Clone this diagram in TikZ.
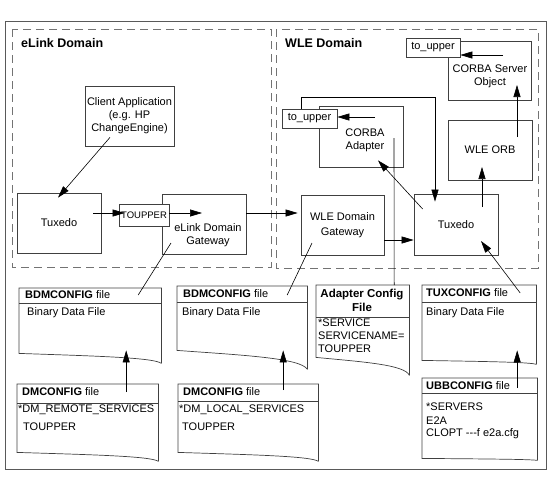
\documentclass[tikz,border=0pt]{standalone}
\usepackage{fontspec}
\setmainfont{Liberation Sans}
\usetikzlibrary{arrows.meta,calc}

\begin{document}
\begin{tikzpicture}[
    x=1pt,
    y=-1pt,
    >={Triangle[length=12pt,width=7pt]},
    every node/.style={font=\fontsize{11}{13}\selectfont, inner sep=0pt},
    box/.style={draw=black!75, line width=0.7pt, fill=white, align=center},
    doc/.style={draw=black!75, line width=0.7pt},
    docarea/.style={anchor=north west},
    domframe/.style={draw=black!55, line width=0.7pt, dash pattern=on 8pt off 5pt},
    domtitle/.style={anchor=west, font=\fontsize{12.5}{14}\bfseries\selectfont},
    hdr/.style={anchor=west},
    txt/.style={anchor=west, align=left},
    wire/.style={line width=0.6pt}
  ]

  % --- 1. ファイル形状のマクロ ---
  % #1 = ノード名, #2 = 下辺の垂れ (pt), #3 = 見出し線の位置 (上辺から)
  \def\DocShape#1#2#3{
    \draw[doc] ([yshift=-#2pt]#1.south east) -- (#1.north east) -- (#1.north west) -- (#1.south west)
    .. controls ($(#1.south west)!0.5!(#1.south east)+(0,0.25*#2)$)
    and ($(#1.south west)!0.95!(#1.south east)+(0,0.4*#2)$) .. ([yshift=-#2pt]#1.south east);
    \draw[doc] ([yshift=-#3pt]#1.north west) -- ([yshift=-#3pt]#1.north east);
  }

  \useasboundingbox (0,0) rectangle (552,483);

  % --- 2. 外枠とドメイン ---
  \draw[draw=black!65, line width=0.8pt] (5,21) rectangle (546,469);
  \draw[domframe] (12,29) rectangle (271,267);
  \draw[domframe] (276,29) rectangle (538,268);
  \node[domtitle] (elinkT) at (21,43) {eLink Domain};
  \node[domtitle] (wleT) at (285,43) {WLE Domain};

  % --- 3. eLink 側 ---
  \node[box, minimum width=89pt, minimum height=60pt] (client) at (129.5,116)
  {Client Application\\(e.g. HP\\ChangeEngine)};
  \node[box, minimum width=84pt, minimum height=60pt] (tuxL) at (59,223) {Tuxedo};
  \node[box, minimum width=84pt, minimum height=60pt] (gwL) at (204,224) {};
  \node[align=center] (gwLtxt) at (208,235) {eLink Domain\\Gateway};
  \node[box, minimum width=50pt, minimum height=22pt, font=\fontsize{9.5}{10}\selectfont] (tupL) at (144,215) {TOUPPER};

  % --- 4. WLE 側 ---
  \node[box, minimum width=83pt, minimum height=60pt] (gwR) at (342.5,225) {WLE Domain\\[2pt]Gateway};
  \node[box, minimum width=84pt, minimum height=61pt] (tuxR) at (456,224.5) {Tuxedo};
  \node[box, minimum width=84pt, minimum height=60pt] (orb) at (490,150) {WLE ORB};
  \node[box, minimum width=83pt, minimum height=59pt] (server) at (489.5,70.5) {};
  \node[align=center] (serverTxt) at (490,76) {CORBA Server\\Object};
  \node[box, minimum width=54pt, minimum height=19pt] (upS) at (433,47.5) {to\_upper};
  \node[box, minimum width=84pt, minimum height=61pt] (adapter) at (361,136.5) {};
  \node[align=center] (adapterTxt) at (365,140) {CORBA\\Adapter};
  \node[box, minimum width=55pt, minimum height=19pt] (upA) at (309.5,118.5) {to\_upper};

  % --- 5. 設定ファイル ---
  % BDMCONFIG (eLink)
  \node[docarea, minimum width=142pt, minimum height=65pt] (bdmL) at (19,288) {};
  \DocShape{bdmL}{10}{15}
  \node[hdr] (bdmLh) at (25,295) {\textbf{BDMCONFIG} file};
  \node[txt] (bdmLb) at (27,313) {Binary Data File};

  % DMCONFIG (eLink)
  \node[docarea, minimum width=141pt, minimum height=68pt] (dmL) at (17,384) {};
  \DocShape{dmL}{9}{19}
  \node[hdr] (dmLh) at (22,392) {\textbf{DMCONFIG} file};
  \node[txt] (dmLb) at (18,410) {*DM\_REMOTE\_SERVICES};
  \node[txt] (dmLt) at (23,427) {TOUPPER};

  % BDMCONFIG (WLE)
  \node[docarea, minimum width=130pt, minimum height=64pt] (bdmR) at (177,286) {};
  \DocShape{bdmR}{19}{16}
  \node[hdr] (bdmRh) at (183,294) {\textbf{BDMCONFIG} file};
  \node[txt] (bdmRb) at (182,313) {Binary Data File};

  % DMCONFIG (WLE)
  \node[docarea, minimum width=140pt, minimum height=68pt] (dmR) at (178,384) {};
  \DocShape{dmR}{9}{17}
  \node[hdr] (dmRh) at (183,392) {\textbf{DMCONFIG} file};
  \node[txt] (dmRb) at (179,410) {*DM\_LOCAL\_SERVICES};
  \node[txt] (dmRt) at (182,427) {TOUPPER};

  % Adapter Config File
  \node[docarea, minimum width=93pt, minimum height=72pt] (adcfg) at (316,285) {};
  \DocShape{adcfg}{18}{32}
  \node[align=center, font=\fontsize{11.5}{14}\bfseries\selectfont] (adcfgh) at (362,300) {Adapter Config\\File};
  \node[txt, font=\fontsize{11}{13}\selectfont] (adcfgb) at (318,336) {*SERVICE\\SERVICENAME=\\TOUPPER};

  % TUXCONFIG
  \node[docarea, minimum width=114pt, minimum height=75pt] (tuxcfg) at (422,285) {};
  \DocShape{tuxcfg}{4}{17}
  \node[hdr] (tuxcfgh) at (426,293) {\textbf{TUXCONFIG} file};
  \node[txt] (tuxcfgb) at (426,313) {Binary Data File};

  % UBBCONFIG
  \node[docarea, minimum width=115pt, minimum height=80pt] (ubbcfg) at (422,378) {};
  \DocShape{ubbcfg}{2}{15}
  \node[hdr] (ubbcfgh) at (426,386) {\textbf{UBBCONFIG} file};
  \node[txt] (ubbcfgs) at (426,407) {*SERVERS};
  \node[txt, font=\fontsize{11}{12.5}\selectfont] (ubbcfgc) at (426,428) {E2A\\CLOPT -{}-{}-f e2a.cfg};

  % --- 6. 接続線 ---
  \draw[wire, ->] ([xshift=-19.5pt,yshift=9pt]client.south) -- ([xshift=-1pt,yshift=-5pt]tuxL.north);
  \draw[wire, ->] ([xshift=-8pt,yshift=10pt]tuxL.east) -- ([xshift=6pt,yshift=2pt]tupL.west);
  \draw[wire, ->] ([yshift=2pt]tupL.east) -- ([xshift=-2pt,yshift=11pt]gwL.center);
  \draw[wire, ->] ([yshift=11pt]gwL.east) -- ([xshift=-3pt,yshift=12pt]gwR.west);
  \draw[wire] ([xshift=-33pt,yshift=-19pt]gwL.center) -- ([xshift=48pt,yshift=-7pt]bdmL.north);

  \draw[wire, ->] ([yshift=-15pt]gwR.east) -- ([yshift=-15.5pt]tuxR.west);
  \draw[wire, ->] ([xshift=9pt,yshift=15.5pt]tuxR.west) -- ([xshift=17pt,yshift=7pt]adapter.south);
  \draw[wire, ->] ([xshift=26pt,yshift=17.5pt]tuxR.center) -- ([xshift=-8pt,yshift=-17pt]orb.center);
  \draw[wire, ->] ([xshift=27pt,yshift=13pt]orb.center) -- ([xshift=27.5pt,yshift=-14.5pt]server.center);
  \draw[wire, ->] ([xshift=13.5pt,yshift=15.5pt]server.center) -- ([yshift=-7.5pt]upS.east);
  \draw[wire, ->] ([xshift=14pt,yshift=19.5pt]adapter.center) -- ([yshift=1.5pt]upA.east);
  \draw[wire, ->] ([xshift=-8.5pt]upA.north) -- ++(0,-11) -| ([xshift=-21pt,yshift=-8pt]tuxR.north);
  \draw[wire] ([xshift=33pt,yshift=-1.5pt]adapter.center) -- ([xshift=31.5pt]adcfg.north);
  \draw[wire] ([xshift=-30.5pt,yshift=-18pt]gwR.center) -- ([xshift=45pt,yshift=-9pt]bdmR.north);
  \draw[wire, ->] ([xshift=41pt,yshift=-8pt]tuxcfg.north) -- ([xshift=25pt,yshift=-16.5pt]tuxR.center);

  \draw[wire, ->] ([xshift=38.5pt,yshift=-8pt]dmL.north) -- ([xshift=36pt,yshift=3pt]bdmL.south);
  \draw[wire, ->] ([xshift=35pt,yshift=-6pt]dmR.north) -- ([xshift=41pt]bdmR.south);
  \draw[wire, ->] ([xshift=37.5pt,yshift=-10pt]ubbcfg.north) -- ([xshift=38pt,yshift=10pt]tuxcfg.south);

\end{tikzpicture}
\end{document}
